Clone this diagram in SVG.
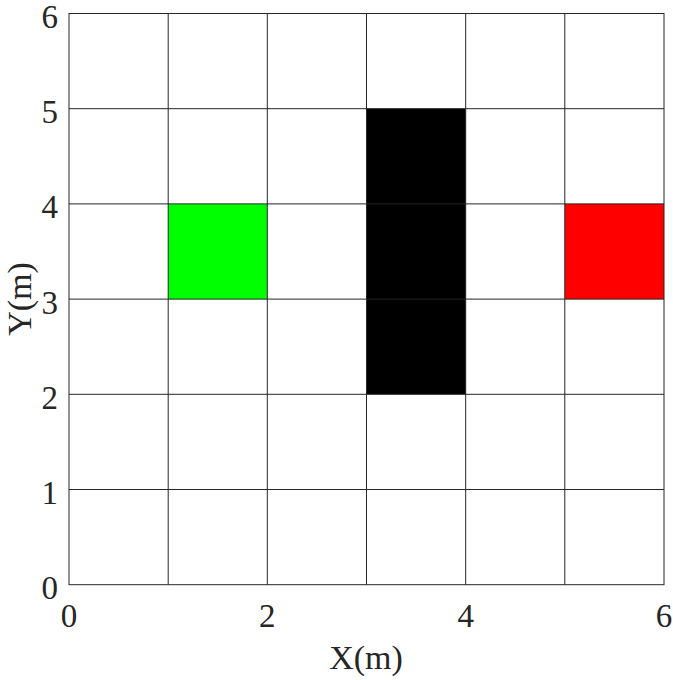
<svg xmlns="http://www.w3.org/2000/svg" width="673" height="680" viewBox="0 0 673 680">
<style>
.g{stroke:#262626;stroke-width:1;fill:none}
.t{font-family:'Liberation Serif','Times New Roman',Times,serif;font-size:33px;fill:#262626}
.l{font-size:34px}
</style>
<rect width="673" height="680" fill="#fff"/>
<g id="cells">
<rect x="168.2" y="203.9" width="99.1" height="95.2" fill="#00ff00"/>
<rect x="366.5" y="108.7" width="99.2" height="285.6" fill="#000"/>
<rect x="564.8" y="203.9" width="99.2" height="95.2" fill="#ff0000"/>
</g>
<g id="grid" class="g">
<path d="M168.2 13.5V584.7M267.3 13.5V584.7M366.5 13.5V584.7M465.7 13.5V584.7M564.8 13.5V584.7"/>
<path d="M69 108.7H664M69 203.9H664M69 299.1H664M69 394.3H664M69 489.5H664"/>
<rect x="69" y="13.5" width="595" height="571.2"/>
</g>
<g id="yticks" class="t" text-anchor="end">
<text x="58" y="599">0</text>
<text x="58" y="504">1</text>
<text x="58" y="409">2</text>
<text x="58" y="314">3</text>
<text x="58" y="218">4</text>
<text x="58" y="123">5</text>
<text x="58" y="28">6</text>
</g>
<g id="xticks" class="t" text-anchor="middle">
<text x="69" y="627">0</text>
<text x="267.3" y="627">2</text>
<text x="465.7" y="627">4</text>
<text x="664" y="627">6</text>
</g>
<g id="labels" class="t l" text-anchor="middle">
<text x="366" y="669">X(m)</text>
<text x="0" y="0" transform="translate(31,299) rotate(-90)">Y(m)</text>
</g>
</svg>
